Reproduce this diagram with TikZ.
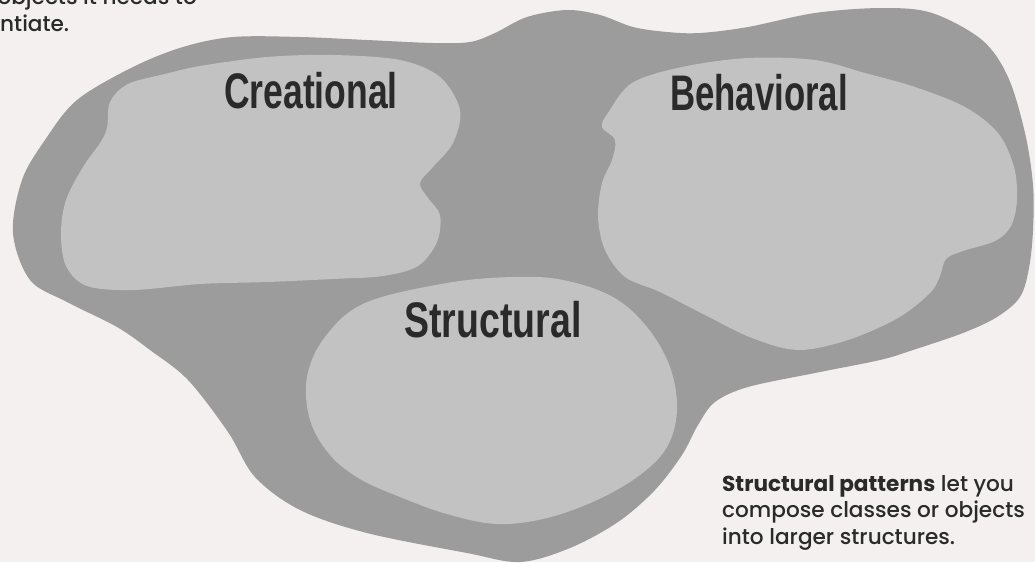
\documentclass[tikz,border=0pt]{standalone}
\usepackage{fontspec}
\usepackage{graphicx}
\newfontfamily\labelfont{Liberation Sans}[BoldFont={* Bold}]
\newfontfamily\notefont{Poppins Medium}[BoldFont={Poppins Bold}]
\definecolor{paper}{HTML}{F3F0EF}
\definecolor{outergray}{HTML}{9D9C9C}
\definecolor{innergray}{HTML}{C3C2C2}
\definecolor{ink}{HTML}{2A2A2A}
\tikzset{
  outerblob/.style={fill=outergray, draw=none},
  innerblob/.style={fill=innergray, draw=none},
  catlabel/.style={inner sep=0pt, anchor=base, text=ink, font=\labelfont\bfseries\fontsize{50}{50}\selectfont},
  notetext/.style={inner sep=0pt, text=ink, font=\notefont\fontsize{21.6}{26.5}\selectfont}
}
\begin{document}
\begin{tikzpicture}[x=1pt, y=-1pt]
\useasboundingbox (0,0) rectangle (1035,562);
\fill[paper] (0,0) rectangle (1035,562);

% outer blob
\path[outerblob] plot[smooth cycle, tension=0.55] coordinates {
 (13,233) (22,180) (45,140) (77,100) (133,67) (183,47) (233,37) (300,37)
 (367,40) (433,43) (470,42) (495,33) (527,17) (567,10) (600,15) (633,27)
 (667,32) (700,33) (748,27) (815,13) (882,8) (932,13) (982,40) (1008,77)
 (1025,133) (1033,185) (1033,230) (1029,268) (1020,297) (997,317) (963,333)
 (913,350) (880,360) (815,373) (748,387) (715,402) (698,425) (682,455)
 (655,490) (618,522) (570,548) (520,562) (467,553) (367,533) (300,510)
 (255,477) (228,432) (188,380) (150,350) (117,327) (67,302) (30,280)};

% creational
\path[innerblob] plot[smooth cycle, tension=0.55] coordinates {
 (110,102) (128,84) (165,74) (200,66) (267,57) (333,55) (400,60) (440,77)
 (460,110) (453,143) (433,167) (420,183) (428,198) (440,215) (437,242)
 (418,266) (383,276) (333,279) (267,282) (200,284) (133,290) (87,286)
 (66,266) (61,233) (66,200) (83,167) (100,143) (107,128)};

% behavioral
\path[innerblob] plot[smooth cycle, tension=0.55] coordinates {
 (608,113) (632,83) (682,67) (748,58) (815,60) (865,73) (915,87) (965,107)
 (998,133) (1014,167) (1017,200) (1011,226) (995,241) (963,251) (946,259)
 (940,276) (930,293) (898,318) (848,340) (798,350) (752,338) (705,315)
 (660,292) (625,277) (605,250) (598,217) (602,183) (612,160) (615,140)
 (602,127)};

% structural
\path[innerblob] plot[smooth cycle, tension=0.6] coordinates {
 (447,283) (513,277) (563,280) (613,297) (647,327) (670,367) (677,410)
 (667,447) (640,475) (597,500) (547,518) (497,524) (447,514) (400,497)
 (360,479) (330,455) (310,420) (307,377) (325,337) (365,303)};

\node[catlabel] (creational) at (311,108) {\scalebox{0.71}[1]{Creational}};
\node[catlabel] (behavioral) at (759,110) {\scalebox{0.695}[1]{Behavioral}};
\node[catlabel] (structural) at (493,337) {\scalebox{0.75}[1]{Structural}};

\node[notetext, anchor=base east] (topline) at (197,5) {the objects it needs to};
\node[notetext, anchor=base west] (topline2) at (0,31) {ntiate.};

\node[notetext, anchor=north west, align=left] (note) at (722,475)
 {{\bfseries Structural patterns} let you\\compose classes or objects\\into larger structures.};
\end{tikzpicture}
\end{document}
